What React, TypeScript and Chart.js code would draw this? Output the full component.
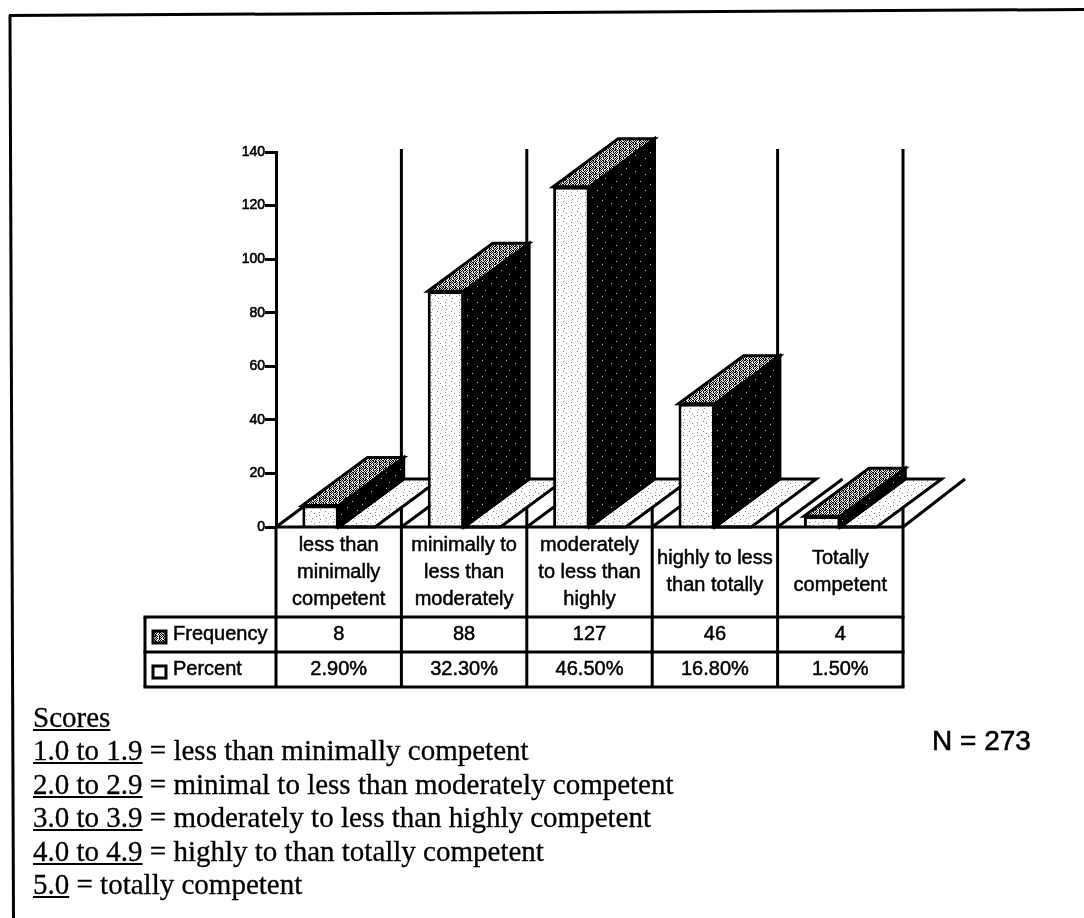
import React, { useEffect, useRef } from "react";
import { Chart, registerables } from "chart.js";

Chart.register(...registerables);

const categories = [
  ["less than", "minimally", "competent"],
  ["minimally to", "less than", "moderately"],
  ["moderately", "to less than", "highly"],
  ["highly to less", "than totally"],
  ["Totally", "competent"],
];
const frequency = [8, 88, 127, 46, 4];
const percent = [0.029, 0.323, 0.465, 0.168, 0.015];
const frequencyText = ["8", "88", "127", "46", "4"];
const percentText = ["2.90%", "32.30%", "46.50%", "16.80%", "1.50%"];
const yTicks = [0, 20, 40, 60, 80, 100, 120, 140];
const scoreRanges = ["1.0 to 1.9", "2.0 to 2.9", "3.0 to 3.9", "4.0 to 4.9", "5.0"];
const scoreMeanings = [
  "less than minimally competent",
  "minimal to less than moderately competent",
  "moderately to less than highly competent",
  "highly to than totally competent",
  "totally competent",
];

const FONT = '20px "Liberation Sans", Arial, sans-serif';
const DEPTH_X = 65;
const DEPTH_Y = -48;

function stipple(rows: string[], on: string, off: string): CanvasPattern | string {
  const c = document.createElement("canvas");
  c.height = rows.length;
  c.width = rows[0].length;
  const g = c.getContext("2d")!;
  rows.forEach((row, y) => {
    [...row].forEach((ch, x) => {
      g.fillStyle = ch === "#" ? on : off;
      g.fillRect(x, y, 1, 1);
    });
  });
  return g.createPattern(c, "repeat") || off;
}

const lightRows = [
  "..............",
  "...#..........",
  "...........#..",
  "......#.......",
  "..............",
  ".#.........#..",
  "........#.....",
  "..............",
  "....#.........",
  "............#.",
];
const darkRows = [
  "........................",
  "........................",
  ".....#..................",
  "........................",
  "........................",
  "................#.......",
  "........................",
  "........................",
  "..#.....................",
  "........................",
  "........................",
  "...........#............",
  "........................",
  "........................",
  ".....................#..",
  "........................",
];
const midRows = [
  "#.#.##.#.#",
  ".#.#..#..#",
  "#..#.#.#.#",
  ".#..#.#..#",
  "#.##.#..#.",
  ".#.#.##..#",
];

function poly(ctx: CanvasRenderingContext2D, pts: number[][], fill: any) {
  ctx.beginPath();
  pts.forEach(([x, y], i) => (i ? ctx.lineTo(x, y) : ctx.moveTo(x, y)));
  ctx.closePath();
  ctx.fillStyle = fill;
  ctx.fill();
  ctx.stroke();
}

function label(ctx: CanvasRenderingContext2D, s: string, x: number, y: number, align: CanvasTextAlign) {
  ctx.save();
  ctx.font = FONT;
  ctx.textAlign = align;
  ctx.textBaseline = "middle";
  ctx.fillStyle = "#000";
  ctx.fillText(s, x, y);
  ctx.strokeStyle = "#000";
  ctx.lineWidth = 0.5;
  ctx.strokeText(s, x, y);
  ctx.restore();
}

export default function App() {
  const ref = useRef<HTMLCanvasElement>(null);

  useEffect(() => {
    const light = stipple(lightRows, "#8a8a8a", "#ffffff");
    const dark = stipple(darkRows, "#bdbdbd", "#000000");
    const mid = stipple(midRows, "#000000", "#e2e2e2");

    const threeD = {
      id: "threeD",
      beforeDatasetsDraw(chart: any) {
        const { ctx, scales } = chart;
        const x = scales.x;
        const y = scales.y;
        const base = y.getPixelForValue(0);
        const top = y.getPixelForValue(140);
        const half = x.width / categories.length / 2;
        ctx.save();
        ctx.strokeStyle = "#000";
        ctx.lineJoin = "miter";
        ctx.lineWidth = 3;
        categories.forEach((_, i) => {
          const edge = x.getPixelForValue(i) + half;
          ctx.beginPath();
          ctx.moveTo(edge, top - 3);
          ctx.lineTo(edge, base);
          ctx.stroke();
        });
        categories.forEach((_, i) => {
          const edge = x.getPixelForValue(i) - half;
          ctx.beginPath();
          ctx.moveTo(edge, base);
          ctx.lineTo(edge + DEPTH_X, base + DEPTH_Y);
          ctx.stroke();
        });
        const last = x.getPixelForValue(categories.length - 1) + half;
        ctx.beginPath();
        ctx.moveTo(last, base);
        ctx.lineTo(last + DEPTH_X - 3, base + DEPTH_Y);
        ctx.stroke();

        const fm = chart.getDatasetMeta(0).data;
        const pm = chart.getDatasetMeta(1).data;
        categories.forEach((_, i) => {
          const f = fm[i];
          const p = pm[i];
          const fl = f.x - f.width / 2;
          const fr = f.x + f.width / 2;
          const pl = p.x - p.width / 2;
          const pr = p.x + p.width / 2;
          poly(ctx, [[pl, base], [pr, base], [pr + DEPTH_X, base + DEPTH_Y], [pl + DEPTH_X, base + DEPTH_Y]], light);
          poly(ctx, [[fr, f.y], [fr + DEPTH_X, f.y + DEPTH_Y], [fr + DEPTH_X, base + DEPTH_Y], [fr, base]], dark);
          poly(ctx, [[fl, f.y], [fr, f.y], [fr + DEPTH_X, f.y + DEPTH_Y], [fl + DEPTH_X, f.y + DEPTH_Y]], mid);
        });
        ctx.restore();
      },
      afterDatasetsDraw(chart: any) {
        const { ctx, scales } = chart;
        const x = scales.x;
        const base = scales.y.getPixelForValue(0);
        const half = x.width / categories.length / 2;
        const rowA = 617;
        const rowB = 652;
        const rowC = 687;
        const tableLeft = 145;
        const chartRight = x.right;
        ctx.save();
        ctx.strokeStyle = "#000";
        ctx.lineWidth = 3;
        const seg = (a: number, b: number, c: number, d: number) => {
          ctx.beginPath();
          ctx.moveTo(a, b);
          ctx.lineTo(c, d);
          ctx.stroke();
        };
        seg(x.left, base, chartRight, base);
        seg(tableLeft - 1.5, rowA, chartRight + 1.5, rowA);
        seg(tableLeft - 1.5, rowB, chartRight + 1.5, rowB);
        seg(tableLeft - 1.5, rowC, chartRight + 1.5, rowC);
        seg(tableLeft, rowA, tableLeft, rowC);
        seg(x.left, base, x.left, rowC);
        categories.forEach((lines, i) => {
          const cx = x.getPixelForValue(i);
          seg(cx + half, base, cx + half, rowC);
          const startY = 572 - ((lines.length - 1) * 27) / 2;
          lines.forEach((line, j) => label(ctx, line, cx, startY + j * 27, "center"));
          label(ctx, frequencyText[i], cx, (rowA + rowB) / 2, "center");
          label(ctx, percentText[i], cx, (rowB + rowC) / 2, "center");
        });
        ctx.lineWidth = 3;
        ctx.fillStyle = mid;
        ctx.fillRect(153, 631, 13, 12);
        ctx.strokeRect(153, 631, 13, 12);
        ctx.fillStyle = "#fff";
        ctx.fillRect(153, 666, 13, 12);
        ctx.strokeRect(153, 666, 13, 12);
        label(ctx, chart.data.datasets[0].label, 173, (rowA + rowB) / 2, "left");
        label(ctx, chart.data.datasets[1].label, 173, (rowB + rowC) / 2, "left");
        ctx.restore();
      },
    };

    const chart = new Chart(ref.current!, {
      type: "bar",
      data: {
        labels: categories.map((c) => c.join(" ")),
        datasets: [
          { label: "Frequency", data: frequency, backgroundColor: light as any, borderColor: "#000", borderWidth: 3 },
          { label: "Percent", data: percent, backgroundColor: light as any, borderColor: "#000", borderWidth: 0 },
        ],
      },
      options: {
        animation: false,
        responsive: false,
        events: [],
        layout: { padding: { left: 220, right: 181, top: 152, bottom: 391 } },
        datasets: { bar: { categoryPercentage: 0.58, barPercentage: 1 } },
        plugins: { legend: { display: false }, tooltip: { enabled: false }, title: { display: false } },
        scales: {
          x: {
            offset: true,
            grid: { display: false },
            border: { display: false },
            ticks: { display: false },
            afterFit: (s: any) => { s.height = 0; },
          },
          y: {
            min: 0,
            max: 140,
            afterFit: (s: any) => { s.width = 56; },
            afterBuildTicks: (s: any) => { s.ticks = yTicks.map((value) => ({ value })); },
            grid: { drawOnChartArea: false, drawTicks: true, tickLength: 11, tickWidth: 3, tickColor: "#000" },
            border: { display: true, color: "#000", width: 3 },
            ticks: {
              padding: 0,
              color: "#000",
              font: { family: '"Liberation Sans", Arial, sans-serif', size: 14 },
              textStrokeColor: "#000",
              textStrokeWidth: 0.6,
            } as any,
          },
        },
      } as any,
      plugins: [threeD],
    });
    return () => chart.destroy();
  }, []);

  const serif = '"Liberation Serif", "Times New Roman", serif';
  return (
    <div style={{ position: "absolute", left: 0, top: 0, width: 1084, height: 918, background: "#fff", overflow: "hidden" }}>
      <svg width={1084} height={918} style={{ position: "absolute", left: 0, top: 0 }}>
        <line x1={10} y1={15} x2={13.5} y2={918} stroke="#000" strokeWidth={3} />
        <line x1={9} y1={15.5} x2={1084} y2={9.5} stroke="#000" strokeWidth={3} />
      </svg>
      <canvas ref={ref} width={1084} height={918} style={{ position: "absolute", left: 0, top: 0, display: "block" }} />
      <div style={{ position: "absolute", left: 932, top: 725, font: '28px "Liberation Sans", Arial, sans-serif', color: "#000", WebkitTextStroke: "0.6px #000", whiteSpace: "nowrap" }}>N = 273</div>
      <div style={{ position: "absolute", left: 33, top: 701, fontFamily: serif, fontSize: 29, lineHeight: "33.4px", color: "#000", whiteSpace: "nowrap", WebkitTextStroke: "0.3px #000" }}>
        <div><u>Scores</u></div>
        {scoreRanges.map((r, i) => (
          <div key={r}><u>{r}</u> = {scoreMeanings[i]}</div>
        ))}
      </div>
    </div>
  );
}
